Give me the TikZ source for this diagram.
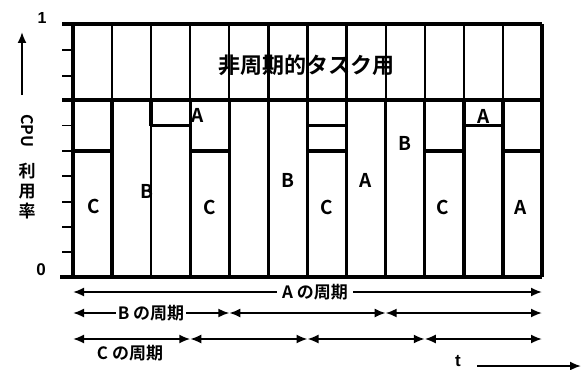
\documentclass[tikz,border=0pt]{standalone}
\usepackage{fontspec}
\setmainfont{Liberation Sans}
\newfontfamily\jp{Noto Sans CJK JP}[BoldFont={Noto Sans CJK JP Bold}]
\usetikzlibrary{arrows.meta}
\begin{document}
\begin{tikzpicture}[x=1pt,y=-1pt,
  thickln/.style={line width=3.4pt},
  midln/.style={line width=2.2pt},
  thinln/.style={line width=1.4pt},
  tickln/.style={line width=1.8pt},
  lbl/.style={font=\jp\bfseries\fontsize{19}{19}\selectfont, inner sep=0pt},
  plbl/.style={font=\jp\bfseries\fontsize{17}{17}\selectfont, inner sep=0pt},
  per/.style={line width=1.8pt, {Latex[length=11pt,width=9pt]}-{Latex[length=11pt,width=9pt]}},
  tip/.style={line width=1.8pt, -{Latex[length=11pt,width=9pt]}},
]
\useasboundingbox (0,0) rectangle (588,369);
% slot boundaries
\foreach \i in {0,...,12} {
  \pgfmathsetmacro{\xx}{73+39.083*\i}
  \coordinate (t\i) at (\xx,24);
  \coordinate (m\i) at (\xx,100);
  \coordinate (s\i) at (\xx,125.5);
  \coordinate (c\i) at (\xx,151);
  \coordinate (b\i) at (\xx,277);
}
% upper region verticals
\foreach \i in {1,...,11} { \draw[midln] (t\i) -- (m\i); }
% ticks
\foreach \yy in {50.3,75.6,125.5,151,176.3,201.6,226.9,252.2} {
  \draw[tickln] (62,\yy) -- (73,\yy);
}
\coordinate (tk1) at (62,24);
\coordinate (tk7) at (62,100);
\coordinate (tk0) at (60,277);
% frame
\draw[thickln] (tk1) -- (t12);
\draw[thickln] (tk7) -- (m12);
\draw[thickln] (tk0) -- (b12);
\draw[thickln] (t0) -- (b0);
\draw[thickln] (t12) -- (b12);
% lower region verticals
\foreach \i in {1,3,4,6,7,8,9,10,11} { \draw[thickln] (m\i) -- (b\i); }
\draw[thickln] (m2) -- (s2);
\draw[thinln] (s2) -- (b2);
\draw[midln] (m5) -- (b5);
% horizontals
\draw[thickln] (c0) -- (c1);
\draw[thickln] (s2) -- (s3);
\draw[thickln] (c3) -- (c4);
\draw[thickln] (s6) -- (s7);
\draw[thickln] (c6) -- (c7);
\draw[thickln] (c9) -- (c10);
\draw[thickln] (s10) -- (s11);
\draw[thickln] (c11) -- (c12);
% task labels
\node[lbl] (l1) at (94,206) {C};
\node[lbl] (l2) at (147,191) {B};
\node[lbl] (l3) at (198,115) {A};
\node[lbl] (l4) at (210,207) {C};
\node[lbl] (l5) at (288,180) {B};
\node[lbl] (l6) at (327,207) {C};
\node[lbl] (l7) at (366,180) {A};
\node[lbl] (l8) at (405,143) {B};
\node[lbl] (l9) at (443,207) {C};
\node[lbl] (l10) at (484,116) {A};
\node[lbl] (l11) at (521,207) {A};
\node[font=\jp\bfseries\fontsize{22}{22}\selectfont, inner sep=0pt] (title) at (306,65) {非周期的タスク用};
% axis
\node[font=\bfseries\fontsize{16}{16}\selectfont, inner sep=0pt] (one) at (42,18) {1};
\node[font=\bfseries\fontsize{17}{17}\selectfont, inner sep=0pt] (zero) at (41,270) {0};
\coordinate (ua) at (22,95);
\coordinate (ub) at (22,32);
\draw[tip] (ua) -- (ub);
\node[font=\jp\bfseries\fontsize{16}{16}\selectfont, inner sep=0pt, rotate=-90] (cpu) at (27,131) {CPU};
\node[font=\jp\bfseries\fontsize{17}{17}\selectfont, inner sep=0pt, align=center] (riyo) at (27,191) {利\\[3pt]用\\[3pt]率};
% periods
\foreach \i in {0,...,12} {
  \pgfmathsetmacro{\xx}{73+39.083*\i}
  \coordinate (pa\i) at (\xx,292);
  \coordinate (pb\i) at (\xx,313);
  \coordinate (pc\i) at (\xx,339);
}
\draw[per] (pa0) -- (pa12);
\node[plbl, fill=white, inner xsep=5pt, inner ysep=2pt] (alab) at (315,292) {A の周期};
\draw[per] (pb0) -- (pb4);
\draw[per] (pb4) -- (pb8);
\draw[per] (pb8) -- (pb12);
\node[plbl, fill=white, inner xsep=2pt, inner ysep=2pt] (blab) at (151,313) {B の周期};
\draw[per] (pc0) -- (pc3);
\draw[per] (pc3) -- (pc6);
\draw[per] (pc6) -- (pc9);
\draw[per] (pc9) -- (pc12);
\node[plbl] (clab) at (130,353) {C の周期};
% time
\node[font=\bfseries\fontsize{17}{17}\selectfont, inner sep=0pt] (tl) at (458,361) {t};
\coordinate (ta) at (477,366);
\coordinate (tb) at (581,366);
\draw[tip] (ta) -- (tb);
\end{tikzpicture}
\end{document}
